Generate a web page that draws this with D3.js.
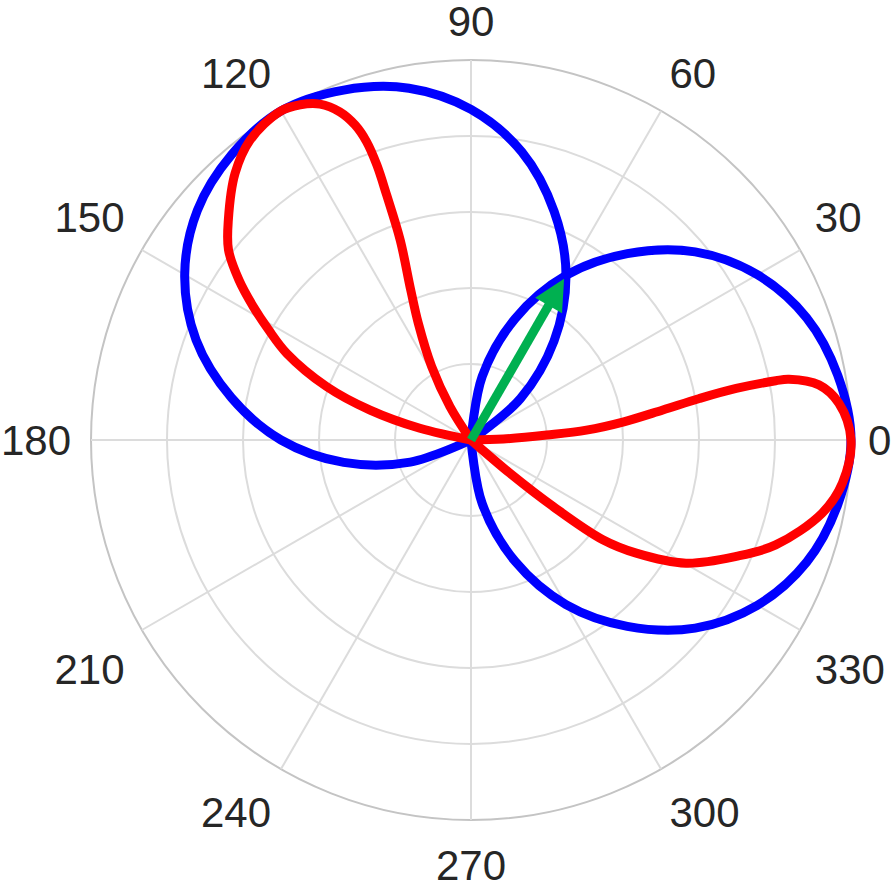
<!DOCTYPE html>
<html>
<head>
<meta charset="utf-8">
<script src="https://cdn.jsdelivr.net/npm/d3@7"></script>
<style>
  html, body { margin: 0; padding: 0; background: #ffffff; }
  svg { display: block; }
</style>
</head>
<body>
<svg id="chart" width="893" height="893"></svg>
<script>
// ---------------- data ----------------
const angleTicks = [0, 30, 60, 90, 120, 150, 180, 210, 240, 270, 300, 330];
const radialTicks = [0.2, 0.4, 0.6, 0.8, 1.0];

// blue circle pointing at 0°
const blueATheta = [-90, -80, -70, -60, -50, -40, -30, -20, -10, 0, 10, 20, 30, 40, 50, 60, 70, 80, 90];
const blueAR     = [0, 0.17, 0.34, 0.5, 0.64, 0.77, 0.87, 0.94, 0.98, 1.0, 0.98, 0.94, 0.87, 0.77, 0.64, 0.5, 0.34, 0.17, 0];

// blue circle pointing at 120°
const blueBTheta = [30, 40, 50, 60, 70, 80, 90, 100, 110, 120, 130, 140, 150, 160, 170, 180, 190, 200, 210];
const blueBR     = [0, 0.17, 0.34, 0.5, 0.64, 0.77, 0.87, 0.94, 0.98, 1.0, 0.98, 0.94, 0.87, 0.77, 0.64, 0.5, 0.34, 0.17, 0];

// red lobe around 0°
const redATheta = [-41, -40.5, -39.0, -37.1, -34.4, -29.8, -23.7, -19.0, -11.75, -6.6, 0, 5.7, 9.0, 10.8, 11.0, 11.0, 10.3, 8.9, 6.8, 4.9, 3.8, 1.8, 0];
const redAR     = [0, 0.135, 0.278, 0.435, 0.527, 0.652, 0.762, 0.848, 0.944, 0.984, 1.0, 0.973, 0.927, 0.852, 0.817, 0.711, 0.611, 0.511, 0.405, 0.305, 0.2, 0.085, 0];

// red lobe around 120°
const redBTheta = [126, 122.2, 118.2, 114.3, 111.9, 109.5, 109.0, 108.9, 109.3, 110.2, 111.8, 114.2, 117.0, 120.2, 126.4, 131.5, 137.8, 141.9, 145.4, 148.5, 151.45, 154.8, 159.7, 163.5, 167.1, 168];
const redBR     = [0, 0.104, 0.219, 0.337, 0.425, 0.558, 0.682, 0.765, 0.832, 0.883, 0.93, 0.969, 0.99, 1.0, 0.98, 0.937, 0.862, 0.811, 0.742, 0.672, 0.606, 0.536, 0.405, 0.277, 0.138, 0];

// green arrow (vector)
const arrowTheta = [60];
const arrowR = [0.49];

// ---------------- drawing ----------------
const cx = 471, cy = 440, R = 380;
const svg = d3.select("#chart");
const g = svg.append("g").attr("transform", `translate(${cx},${cy})`);

const r = d3.scaleLinear().domain([0, 1]).range([0, R]);
const toRad = d => (90 - d) * Math.PI / 180; // d3 radial angle (clockwise from north)

// grid rings
g.selectAll("circle.ring").data(radialTicks).join("circle")
  .attr("class", "ring")
  .attr("r", d => r(d))
  .attr("fill", "none")
  .attr("stroke", d => d === 1 ? "#c4c4c4" : "#dcdcdc")
  .attr("stroke-width", 2);

// radial spokes
g.selectAll("line.spoke").data(angleTicks).join("line")
  .attr("class", "spoke")
  .attr("x1", 0).attr("y1", 0)
  .attr("x2", d => r(1) * Math.cos(d * Math.PI / 180))
  .attr("y2", d => -r(1) * Math.sin(d * Math.PI / 180))
  .attr("stroke", "#dcdcdc")
  .attr("stroke-width", 2);

// angular labels
g.selectAll("text.alabel").data(angleTicks).join("text")
  .attr("class", "alabel")
  .attr("x", d => {
    const c = Math.cos(d * Math.PI / 180);
    return (c < -0.01 ? 400 : 397) * c;
  })
  .attr("y", d => {
    const s = Math.sin(d * Math.PI / 180);
    const off = s > 0.01 ? 27.6 : (s < -0.01 ? -33.5 : 0);
    return -391.4 * s - off + 15;
  })
  .attr("text-anchor", d => {
    const c = Math.cos(d * Math.PI / 180);
    return c > 0.01 ? "start" : (c < -0.01 ? "end" : "middle");
  })
  .attr("font-family", "'Liberation Sans', Arial, sans-serif")
  .attr("font-size", 42)
  .attr("fill", "#262626")
  .text(d => d);

const line = d3.lineRadial()
  .angle(d => toRad(d[0]))
  .radius(d => r(d[1]))
  .curve(d3.curveCatmullRom.alpha(0.5));

function series(thetas, rs) { return thetas.map((t, i) => [t, rs[i]]); }

// blue circles
[[blueATheta, blueAR], [blueBTheta, blueBR]].forEach(([t, v]) => {
  g.append("path")
    .attr("d", line(series(t, v)))
    .attr("fill", "none")
    .attr("stroke", "#0000ff")
    .attr("stroke-width", 9)
    .attr("stroke-linejoin", "round");
});

// red lobes
[[redATheta, redAR], [redBTheta, redBR]].forEach(([t, v]) => {
  g.append("path")
    .attr("d", line(series(t, v)))
    .attr("fill", "none")
    .attr("stroke", "#ff0000")
    .attr("stroke-width", 9)
    .attr("stroke-linejoin", "round")
    .attr("stroke-linecap", "round");
});

// green arrow
const at = arrowTheta[0] * Math.PI / 180;
const tipX = r(arrowR[0]) * Math.cos(at), tipY = -r(arrowR[0]) * Math.sin(at);
const headLen = 31, headW = 31;
const ux = Math.cos(at), uy = -Math.sin(at);
const bx = tipX - ux * headLen, by = tipY - uy * headLen;
g.append("line")
  .attr("x1", 0).attr("y1", 0)
  .attr("x2", bx + ux * 2).attr("y2", by + uy * 2)
  .attr("stroke", "#00b050")
  .attr("stroke-width", 9);
g.append("path")
  .attr("d", `M${tipX},${tipY}L${bx - uy * headW / 2},${by + ux * headW / 2}L${bx + uy * headW / 2},${by - ux * headW / 2}Z`)
  .attr("fill", "#00b050");
</script>
</body>
</html>
